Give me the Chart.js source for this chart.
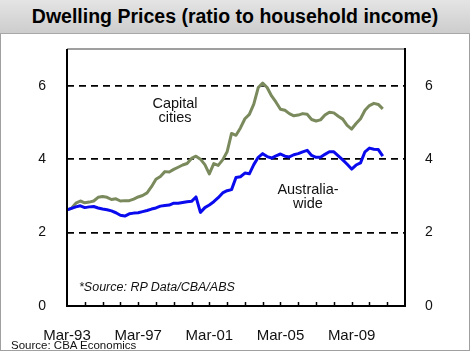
<!DOCTYPE html>
<html>
<head>
<meta charset="utf-8">
<script src="https://cdn.jsdelivr.net/npm/chart.js@4.4.1/dist/chart.umd.min.js"></script>
<style>
  html, body { margin: 0; padding: 0; background: #fff; }
  #wrap { position: relative; width: 470px; height: 351px; overflow: hidden; font-family: "Liberation Sans", Arial, sans-serif; }
  #band { position: absolute; left: 0; top: 0; width: 470px; height: 33px;
          background: linear-gradient(#e4e4e4, #cdcdcd); border-bottom: 1px solid #a8a8a8; }
  #panel { position: absolute; left: 0; top: 34px; width: 468px; height: 316px; border: 1px solid #a0a0a0; border-top: none; }
  #title { position: absolute; left: 0; top: 5px; width: 470px; text-align: center; font-weight: bold; font-size: 19.5px; color: #000; }
  canvas { position: absolute; left: 0; top: 0; }
  .lbl { position: absolute; color: #111; text-align: center; white-space: nowrap; }
</style>
</head>
<body>
<div id="wrap">
  <div id="band"></div>
  <div id="panel"></div>
  <div id="title">Dwelling Prices (ratio to household income)</div>
  <canvas id="chart" width="470" height="351"></canvas>
  <div class="lbl" style="left:135px;top:96px;width:80px;font-size:14.5px;line-height:14px;">Capital<br>cities</div>
  <div class="lbl" style="left:268px;top:182px;width:80px;font-size:14.5px;line-height:14px;">Australia-<br>wide</div>
  <div class="lbl" style="left:79px;top:280px;font-size:12.5px;font-style:italic;">*Source: RP Data/CBA/ABS</div>
  <div class="lbl" style="left:11px;top:339px;font-size:11.5px;">Source: CBA Economics</div>
</div>
<script>
// quarterly data, Mar-93 .. Dec-10
const startYear = 1993;
const endYear = 2012;
const months = ['Mar', 'Jun', 'Sep', 'Dec'];

const australiaWide = [
  2.62, 2.66, 2.70, 2.73, 2.68, 2.70, 2.71, 2.67, 2.64, 2.62,
  2.59, 2.54, 2.47, 2.45, 2.51, 2.53, 2.54, 2.57, 2.60, 2.64,
  2.67, 2.72, 2.74, 2.75, 2.80, 2.80, 2.82, 2.84, 2.85, 2.97,
  2.55, 2.68, 2.75, 2.84, 2.95, 3.08, 3.14, 3.17, 3.50, 3.52,
  3.62, 3.60, 3.85, 4.05, 4.15, 4.07, 4.03, 4.09, 4.14, 4.08,
  4.06, 4.12, 4.15, 4.20, 4.24, 4.10, 4.05, 4.05, 4.13, 4.20,
  4.20, 4.09, 3.98, 3.86, 3.73, 3.84, 3.90, 4.20, 4.30, 4.27,
  4.26, 4.08
];

const capitalCities = [
  2.62, 2.66, 2.80, 2.86, 2.81, 2.83, 2.86, 2.96, 2.98, 2.96,
  2.90, 2.92, 2.86, 2.87, 2.87, 2.91, 2.97, 3.01, 3.08, 3.25,
  3.45, 3.53, 3.66, 3.65, 3.72, 3.78, 3.84, 3.88, 4.02, 4.08,
  4.00, 3.85, 3.60, 3.88, 3.83, 3.98, 4.20, 4.70, 4.65, 4.85,
  5.10, 5.22, 5.50, 5.95, 6.07, 5.95, 5.72, 5.55, 5.36, 5.33,
  5.24, 5.18, 5.20, 5.24, 5.22, 5.08, 5.04, 5.07, 5.20, 5.28,
  5.26, 5.17, 5.09, 4.92, 4.82, 4.97, 5.10, 5.33, 5.46, 5.52,
  5.49, 5.37
];

const xTickLabels = ['Mar-93', 'Mar-97', 'Mar-01', 'Mar-05', 'Mar-09'];
const yTicks = [0, 2, 4, 6];

const quarters = [];
for (let y = startYear; y <= endYear; y++) {
  for (const m of months) {
    quarters.push(m + '-' + String(y).slice(2));
    if (y === endYear) break;
  }
}

const fontTick = { family: "'Liberation Sans', Arial, sans-serif", size: 14 };

// frame + inward year tick marks
const framePlugin = {
  id: 'frame',
  afterDatasetsDraw(chart) {
    const { ctx, chartArea: a } = chart;
    const xs = chart.scales.x;
    ctx.save();
    ctx.strokeStyle = '#000';
    ctx.lineWidth = 1.5;
    quarters.forEach((q, i) => {
      if (q.startsWith('Mar') && i > 0 && i < quarters.length - 1) {
        const px = Math.round(xs.getPixelForValue(i)) + 0.5;
        ctx.beginPath();
        ctx.moveTo(px, a.bottom);
        ctx.lineTo(px, a.bottom - 4);
        ctx.stroke();
      }
    });
    ctx.strokeStyle = '#7f7f7f';
    ctx.lineWidth = 1.5;
    ctx.beginPath();
    ctx.moveTo(a.left, a.top);
    ctx.lineTo(a.right, a.top);
    ctx.stroke();
    ctx.strokeStyle = '#000';
    ctx.lineWidth = 2;
    ctx.beginPath();
    ctx.moveTo(a.left, a.top);
    ctx.lineTo(a.left, a.bottom);
    ctx.lineTo(a.right, a.bottom);
    ctx.lineTo(a.right, a.top - 1);
    ctx.stroke();
    ctx.restore();
  }
};

new Chart(document.getElementById('chart').getContext('2d'), {
  type: 'line',
  data: {
    labels: quarters,
    datasets: [
      {
        label: 'Australia-wide',
        data: australiaWide,
        borderColor: '#0a0aee',
        borderWidth: 3,
        pointRadius: 0,
        tension: 0,
        borderJoinStyle: 'round'
      },
      {
        label: 'Capital cities',
        data: capitalCities,
        borderColor: '#7a8a5c',
        borderWidth: 3,
        pointRadius: 0,
        tension: 0,
        borderJoinStyle: 'round'
      }
    ]
  },
  options: {
    responsive: false,
    animation: false,
    layout: { padding: { left: 0, right: 0, top: 49, bottom: 0 } },
    plugins: { legend: { display: false }, tooltip: { enabled: false } },
    scales: {
      x: {
        type: 'category',
        offset: false,
        afterFit: s => { s.height = 45; },
        grid: { display: false, drawTicks: false },
        border: { display: false },
        ticks: {
          autoSkip: false,
          maxRotation: 0,
          padding: 21,
          color: '#111',
          font: { ...fontTick, size: 15 },
          callback(v) {
            const l = this.getLabelForValue(v);
            return xTickLabels.includes(l) ? l : '';
          }
        }
      },
      y: {
        position: 'left',
        min: 0,
        max: 7,
        afterFit: s => { s.width = 67; },
        afterBuildTicks: s => { s.ticks = yTicks.map(v => ({ value: v })); },
        grid: {
          drawTicks: false,
          color: c => (c.tick && (c.tick.value === 0 || c.tick.value === 7)) ? 'rgba(0,0,0,0)' : '#000',
          lineWidth: 1.8
        },
        border: { display: false, dash: [7, 5] },
        ticks: { padding: 21, color: '#111', font: fontTick }
      },
      y2: {
        position: 'right',
        min: 0,
        max: 7,
        afterFit: s => { s.width = 65; },
        afterBuildTicks: s => { s.ticks = yTicks.map(v => ({ value: v })); },
        grid: { display: false, drawTicks: false },
        border: { display: false },
        ticks: { padding: 20, color: '#111', font: fontTick }
      }
    }
  },
  plugins: [framePlugin]
});
</script>
</body>
</html>
